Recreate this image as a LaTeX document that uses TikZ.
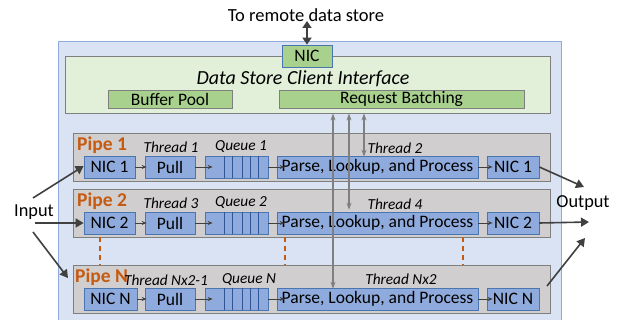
\documentclass[tikz,border=0pt]{standalone}
\usepackage{fontspec}
\setmainfont{Carlito}
\usetikzlibrary{arrows.meta}
\definecolor{outerfill}{HTML}{DAE3F3}
\definecolor{outerdraw}{HTML}{8FAADC}
\definecolor{ifill}{HTML}{E2F0D9}
\definecolor{gfill}{HTML}{A9D18E}
\definecolor{pfill}{HTML}{D0CECE}
\definecolor{bfill}{HTML}{8FAADC}
\definecolor{bdraw}{HTML}{4A76B0}
\definecolor{qline}{HTML}{2F5597}
\definecolor{greyline}{HTML}{7F7F7F}
\definecolor{darkline}{HTML}{404040}
\definecolor{orangetxt}{HTML}{C55A11}
\begin{document}
\begin{tikzpicture}[x=1pt,y=-1pt,
  box/.style={rectangle, inner sep=0pt, font=\fontsize{17.5}{17.5}\selectfont},
  iface/.style={box, fill=ifill, draw=greyline, line width=0.8pt},
  greenbox/.style={box, fill=gfill, draw=greyline, line width=0.8pt, minimum height=18},
  pipebox/.style={box, fill=pfill, draw=greyline, line width=0.8pt, minimum width=477, minimum height=48},
  bluebox/.style={box, fill=bfill, draw=bdraw, line width=0.7pt, minimum height=22},
  lbl/.style={inner sep=0pt, font=\fontsize{15.3}{15.3}\selectfont\itshape},
  pipelbl/.style={inner sep=0pt, anchor=west, text=orangetxt, font=\fontsize{19.5}{19.5}\selectfont\bfseries},
  flow/.style={draw=darkline, line width=0.8pt, -{Stealth[length=5pt,width=4pt]}},
  io/.style={draw=darkline, line width=1.6pt, -{Triangle[length=8pt,width=9pt]}},
  vert/.style={draw=greyline, line width=1.1pt, {Stealth[length=7pt,width=5pt]}-{Stealth[length=7pt,width=5pt]}},
  orangedash/.style={draw=orangetxt, line width=1.2pt, dash pattern=on 5pt off 4pt}
]
\useasboundingbox (0,0) rectangle (618,320);
% outer container
\fill[outerfill] (58,42) rectangle (561,321);
\draw[outerdraw, line width=1pt] (58,321) -- (58,42) -- (561,42) -- (561,321);

\node[font=\fontsize{18.5}{18.5}\selectfont] (remote) at (306,15) {To remote data store};

% data store client interface
\node[iface, minimum width=485, minimum height=57] (iface) at (307.5,84.5) {};
\node[box, fill=gfill, draw=bdraw, line width=0.8pt, minimum width=50, minimum height=22] (nic) at (307,56) {NIC};
\node[inner sep=0pt, font=\fontsize{20}{20}\selectfont\itshape] (ititle) at (303,79) {Data Store Client Interface};
\node[greenbox, minimum width=124] (buf) at (170,99) {Buffer Pool};
\node[greenbox, minimum width=245] (req) at (401.5,99) {Request Batching};
\coordinate (remoteend) at (307,21);
\draw[draw=darkline, line width=2pt, {Triangle[length=7pt,width=9pt]}-{Triangle[length=7pt,width=9pt]}] (remoteend) -- (nic.north);

% pipes
\foreach \n/\y in {1/157,2/213,N/289}{
  \node[pipebox] (pipe\n) at (311.5,\y) {};
}
\node[pipelbl] (pl1) at (77,145) {Pipe 1};
\node[pipelbl] (pl2) at (77,201) {Pipe 2};
\node[pipelbl] (plN) at (75,277) {Pipe N};

\foreach \n/\y/\ta/\q/\tb/\ty in {1/167/Thread 1/Queue 1/Thread 2/147, 2/223/Thread 3/Queue 2/Thread 4/203}{
  \node[bluebox, minimum width=51] (nicin\n) at (109.5,\y) {NIC \n};
  \node[bluebox, minimum width=50] (pull\n) at (170,\y) {Pull};
  \node[bluebox, minimum width=63] (queue\n) at (236.5,\y) {};
  \node[bluebox, minimum width=201] (parse\n) at (377.5,\y) {Parse, Lookup, and Process};
  \node[bluebox, minimum width=52] (nicout\n) at (513,\y) {NIC \n};
  \node[lbl] (ta\n) at (171,\ty) {\ta};
  \node[lbl] (q\n) at (241,\ty) {\q};
  \node[lbl] (tb\n) at (395,\ty+1.5) {\tb};
}
\node[bluebox, minimum width=53] (nicinN) at (110.5,299) {NIC N};
\node[bluebox, minimum width=50] (pullN) at (170,299) {Pull};
\node[bluebox, minimum width=63] (queueN) at (236.5,299) {};
\node[bluebox, minimum width=201] (parseN) at (377.5,299) {Parse, Lookup, and Process};
\node[bluebox, minimum width=52] (nicoutN) at (513,299) {NIC N};
\node[lbl] (taN) at (166,280) {Thread Nx2-1};
\node[lbl] (qN) at (249,280) {Queue N};
\node[lbl] (tbN) at (401,279) {Thread Nx2};

% queue dividers and flows
\foreach \n in {1,2,N}{
  \foreach \xx in {224,232,242,250,258}{
    \draw[qline, line width=1pt] (\xx,0 |- queue\n.north) -- (\xx,0 |- queue\n.south);
  }
  \draw[flow] (nicin\n.east) -- ([xshift=2pt]pull\n.west);
  \draw[flow] (pull\n.east) -- ([xshift=8pt]queue\n.west);
  \draw[flow] (queue\n.east) -- ([xshift=8pt]parse\n.west);
  \draw[flow] (parse\n.east) -- ([xshift=6pt]nicout\n.west);
}

% vertical links from the interface
\draw[vert] (333,0 |- iface.south) -- ([yshift=-1pt]333,0 |- parseN.north);
\draw[vert] (349,0 |- iface.south) -- ([yshift=2pt]349,0 |- parse2.north);
\draw[vert] (364,0 |- iface.south) -- ([yshift=-1pt]364,0 |- parse1.north);

% dashed continuation lines
\draw[orangedash] (100,0 |- pipe2.south) -- (100,0 |- pipeN.north);
\draw[orangedash] (285,0 |- pipe2.south) -- (285,0 |- pipeN.north);
\draw[orangedash] (463,0 |- pipe2.south) -- (463,0 |- pipeN.north);

% input / output
\node[font=\fontsize{18.3}{18.3}\selectfont] (input) at (34,212) {Input};
\node[font=\fontsize{18.3}{18.3}\selectfont] (output) at (583,203) {Output};
\coordinate (in1) at (33,198);
\coordinate (in2) at (35,223);
\coordinate (in3) at (33,232);
\coordinate (pNin) at (68,278);
\draw[io] (in1) -- ([yshift=1pt]nicin1.west);
\draw[io] (in2) -- (nicin2.west);
\draw[io] (in3) -- (pNin);
\coordinate (out1) at (584,187);
\coordinate (out2) at (589,222);
\coordinate (out3) at (585,238);
\coordinate (pNout) at (547,286);
\draw[io] (nicout1.east) -- (out1);
\draw[io] (nicout2.east) -- (out2);
\draw[io] (pNout) -- (out3);
\end{tikzpicture}
\end{document}
